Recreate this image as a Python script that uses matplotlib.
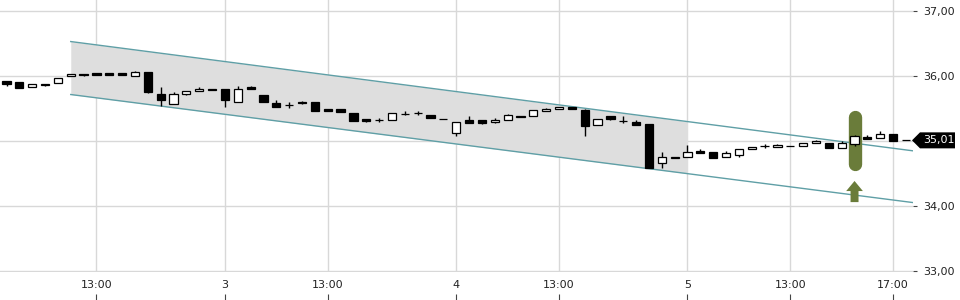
import matplotlib
matplotlib.use("Agg")
import matplotlib.pyplot as plt
from matplotlib.patches import Rectangle, Polygon
from matplotlib.transforms import blended_transform_factory

# ---- data (half-hourly candles, index 0..70) ----
opens = [35.93, 35.90, 35.83, 35.87, 35.89, 36.00, 36.03, 36.04, 36.04, 36.04,
         36.00, 36.06, 35.72, 35.57, 35.73, 35.77, 35.80, 35.80, 35.60, 35.83,
         35.71, 35.58, 35.56, 35.60, 35.595, 35.49, 35.49, 35.43, 35.34, 35.32,
         35.33, 35.42, 35.43, 35.40, 35.345, 35.12, 35.32, 35.32, 35.29, 35.32,
         35.39, 35.39, 35.455, 35.49, 35.525, 35.47, 35.25, 35.38, 35.315, 35.29,
         35.26, 34.66, 34.745, 34.76, 34.845, 34.83, 34.76, 34.79, 34.88, 34.93,
         34.91, 34.93, 34.93, 34.97, 34.97, 34.90, 34.96, 35.065, 35.05, 35.11,
         35.01]
highs = [35.93, 35.90, 35.87, 35.88, 35.965, 36.03, 36.03, 36.04, 36.04, 36.04,
         36.075, 36.06, 35.83, 35.75, 35.77, 35.83, 35.80, 35.80, 35.85, 35.84,
         35.71, 35.63, 35.595, 35.62, 35.595, 35.49, 35.49, 35.43, 35.34, 35.36,
         35.43, 35.46, 35.46, 35.40, 35.345, 35.29, 35.38, 35.33, 35.35, 35.42,
         35.39, 35.47, 35.51, 35.52, 35.525, 35.50, 35.34, 35.38, 35.39, 35.32,
         35.26, 34.83, 34.75, 34.94, 34.88, 34.83, 34.84, 34.88, 34.91, 34.96,
         34.95, 34.93, 34.97, 35.02, 34.97, 35.00, 35.09, 35.085, 35.15, 35.11,
         35.01]
lows = [35.85, 35.82, 35.83, 35.84, 35.89, 36.00, 36.005, 36.02, 36.01, 36.01,
        36.00, 35.74, 35.54, 35.57, 35.70, 35.77, 35.79, 35.52, 35.60, 35.80,
        35.60, 35.53, 35.51, 35.57, 35.46, 35.46, 35.45, 35.31, 35.29, 35.30,
        35.33, 35.40, 35.40, 35.36, 35.34, 35.07, 35.28, 35.26, 35.27, 35.32,
        35.365, 35.39, 35.455, 35.49, 35.49, 35.08, 35.25, 35.33, 35.28, 35.24,
        34.59, 34.58, 34.745, 34.76, 34.82, 34.74, 34.76, 34.75, 34.88, 34.90,
        34.91, 34.93, 34.93, 34.97, 34.90, 34.90, 34.93, 35.025, 35.05, 35.00,
        35.01]
closes = [35.88, 35.82, 35.87, 35.865, 35.965, 36.03, 36.01, 36.02, 36.02, 36.01,
          36.055, 35.76, 35.63, 35.73, 35.77, 35.80, 35.79, 35.63, 35.795, 35.80,
          35.60, 35.53, 35.55, 35.59, 35.46, 35.46, 35.45, 35.31, 35.31, 35.325,
          35.43, 35.42, 35.425, 35.36, 35.34, 35.29, 35.28, 35.275, 35.33, 35.40,
          35.365, 35.47, 35.49, 35.52, 35.50, 35.23, 35.34, 35.345, 35.31, 35.24,
          34.59, 34.76, 34.75, 34.83, 34.82, 34.74, 34.82, 34.88, 34.91, 34.93,
          34.945, 34.93, 34.97, 35.00, 34.90, 34.97, 35.07, 35.025, 35.11, 35.00,
          35.01]

tick_pos = [7, 17, 25, 35, 43, 53, 61, 69]
tick_labels = ["13:00", "3", "13:00", "4", "13:00", "5", "13:00", "17:00"]
y_ticks = [33, 34, 35, 36, 37]

# trend channel (start index, start value, end index, end value)
chan_x = [5, 70.5]
chan_upper = [36.53, 34.85]
chan_lower = [35.715, 34.054]
shade_end = 53

# signal marker
sig_idx = 66
sig_top, sig_bot = 35.37, 34.65
arrow_top, arrow_head_base, arrow_bottom = 34.385, 34.23, 34.06

# ---- figure ----
W, H = 960, 300
fig = plt.figure(figsize=(W / 100, H / 100), dpi=100)
ax_right_px, ax_bottom_px = 913, 272
ax = fig.add_axes([0, (H - ax_bottom_px) / H, ax_right_px / W, ax_bottom_px / H])

ax.set_xlim(-0.506, 70.55)
ax.set_ylim(36 - (ax_bottom_px - 76) / 65, 36 + 76 / 65)

grid_c = "#d8d8d8"
for y in y_ticks:
    ax.axhline(y, color=grid_c, lw=1, zorder=0)
for x in tick_pos:
    ax.axvline(x, color=grid_c, lw=1, zorder=0)

# channel shading and lines
def chan_val(vals, x):
    return vals[0] + (vals[1] - vals[0]) * (x - chan_x[0]) / (chan_x[1] - chan_x[0])

ax.fill_between([chan_x[0], shade_end],
                [chan_val(chan_lower, chan_x[0]), chan_val(chan_lower, shade_end)],
                [chan_val(chan_upper, chan_x[0]), chan_val(chan_upper, shade_end)],
                color="#dedede", lw=0, zorder=1)
line_c = "#5f9fa6"
ax.plot(chan_x, chan_upper, color=line_c, lw=1.0, zorder=2)
ax.plot(chan_x, chan_lower, color=line_c, lw=1.0, zorder=2)

# signal marker
olive = "#6a7c3a"
ax.plot([sig_idx, sig_idx], [sig_bot, sig_top], color=olive, lw=9.6,
        solid_capstyle="round", zorder=3)
hw_head, hw_shaft = 0.65, 0.31
ax.add_patch(Polygon([(sig_idx, arrow_top), (sig_idx + hw_head, arrow_head_base),
                      (sig_idx + hw_shaft, arrow_head_base), (sig_idx + hw_shaft, arrow_bottom),
                      (sig_idx - hw_shaft, arrow_bottom), (sig_idx - hw_shaft, arrow_head_base),
                      (sig_idx - hw_head, arrow_head_base)],
                     closed=True, facecolor=olive, edgecolor="none", zorder=3))

# candles
bw = 0.64
for i, (o, h, l, c) in enumerate(zip(opens, highs, lows, closes)):
    ax.vlines(i, l, h, color="black", lw=1.0, zorder=4)
    bottom = min(o, c)
    height = abs(c - o)
    fc = "white" if c > o else "black"
    ax.add_patch(Rectangle((i - bw / 2, bottom), bw, height, facecolor=fc,
                           edgecolor="black", lw=0.9, zorder=5))

# axes styling
for s in ax.spines.values():
    s.set_visible(False)
ax.yaxis.tick_right()
ax.set_yticks(y_ticks)
ax.set_yticklabels([f"{v:.2f}".replace(".", ",") for v in y_ticks])
ax.tick_params(axis="y", length=3, width=0.8, color="#444", pad=4.3,
               labelsize=8, labelcolor="#222")
ax.set_xticks(tick_pos)
ax.set_xticklabels(tick_labels)
ax.tick_params(axis="x", length=0, pad=5.5, labelsize=8, labelcolor="#222")

sec = ax.secondary_xaxis(-(H - ax_bottom_px) / ax_bottom_px)
sec.set_xticks(tick_pos)
sec.tick_params(direction="in", length=4, width=0.8, color="#444", labelbottom=False)
for s in sec.spines.values():
    s.set_visible(False)

# last price label
last = closes[-1]
tr = blended_transform_factory(ax.transAxes, ax.transData)
hh = 8 / 65
x_tip = 912 / ax_right_px
x_l = 920 / ax_right_px
x_r = 955 / ax_right_px
ax.add_patch(Polygon([(x_tip, last), (x_l, last + hh), (x_r, last + hh),
                      (x_r, last - hh), (x_l, last - hh)], closed=True,
                     transform=tr, facecolor="black", edgecolor="none",
                     clip_on=False, zorder=6))
ax.text((x_l + x_r) / 2 + 0.002, last, f"{last:.2f}".replace(".", ","), transform=tr,
        color="white", fontsize=8, ha="center", va="center", zorder=7, clip_on=False)

fig.savefig("out.png", dpi=100)
